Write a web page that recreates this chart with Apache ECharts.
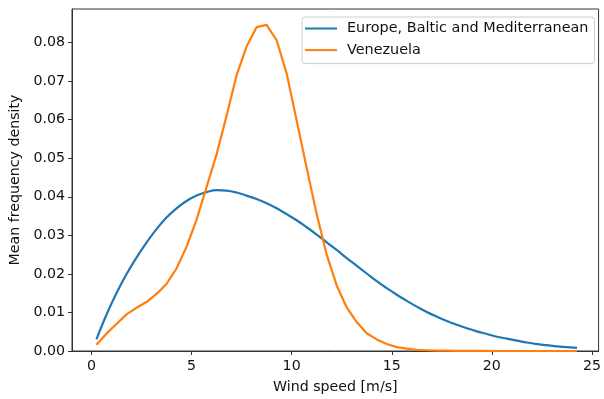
<!DOCTYPE html>
<html>
<head>
<meta charset="utf-8">
<script src="https://cdn.jsdelivr.net/npm/echarts@6/dist/echarts.min.js"></script>
<style>
html,body{margin:0;padding:0;background:#fff;}
#chart{width:604px;height:399px;}
</style>
</head>
<body>
<div id="chart"></div>
<script>
// Wind speed bin centres [m/s]
var windSpeed = [0.25,0.75,1.25,1.75,2.25,2.75,3.25,3.75,4.25,4.75,5.25,5.75,6.25,6.75,7.25,7.75,8.25,8.75,9.25,9.75,
  10.25,10.75,11.25,11.75,12.25,12.75,13.25,13.75,14.25,14.75,15.25,15.75,16.25,16.75,17.25,17.75,18.25,18.75,19.25,19.75,
  20.25,20.75,21.25,21.75,22.25,22.75,23.25,23.75,24.25];
var europe = [0.0030,0.0094,0.0150,0.0199,0.0242,0.0281,0.0316,0.0346,0.0370,0.0389,0.0403,0.0412,0.0417,0.0416,0.0411,0.0403,0.0394,0.0383,0.0370,0.0355,
  0.0339,0.0321,0.0302,0.0282,0.0262,0.0241,0.0221,0.0201,0.0181,0.0163,0.0146,0.0130,0.0115,0.0101,0.0089,0.0078,0.0068,0.0059,0.0051,0.0044,
  0.0037,0.0032,0.0027,0.0022,0.0018,0.0015,0.0012,0.0010,0.0008];
var venezuela = [0.0016,0.0045,0.0070,0.0095,0.0112,0.0127,0.0148,0.0174,0.0214,0.0270,0.0340,0.0425,0.0510,0.0610,0.0715,0.0790,0.0840,0.0846,0.0806,0.0720,
  0.0598,0.0475,0.0355,0.0250,0.0170,0.0113,0.0075,0.0046,0.0030,0.0018,0.0010,0.0006,0.0003,0.0002,0.0001,0.0001,0.00005,0.00003,0.00002,0.00001,
  0,0,0,0,0,0,0,0,0];
var seriesNames = ['Europe, Baltic and Mediterranean','Venezuela'];
var xTicks = [0,5,10,15,20,25];
var yTicks = [0,0.01,0.02,0.03,0.04,0.05,0.06,0.07,0.08];

function pairs(xs, ys){ return xs.map(function(x,i){ return [x, ys[i]]; }); }

var FONT = 'DejaVu Sans';
var FS = 14.2;
var chart = echarts.init(document.getElementById('chart'), null, {renderer:'canvas'});
chart.setOption({
  animation:false,
  backgroundColor:'#fff',
  textStyle:{fontFamily:FONT},
  grid:{left:72, right:2, top:9, bottom:47, show:true, borderColor:'#333', borderWidth:1, backgroundColor:'transparent'},
  legend:{
    orient:'vertical', left:302, top:17,
    padding:[3,6,5,3],
    itemGap:4.6, itemWidth:32, itemHeight:2, icon:'rect',
    borderColor:'#cccccc', borderWidth:1, borderRadius:3, backgroundColor:'rgba(255,255,255,0.8)',
    textStyle:{fontFamily:FONT, fontSize:14.4, color:'#111', lineHeight:17, padding:[0,0,0,5]},
    data:seriesNames
  },
  xAxis:{
    type:'value', min:-0.97, max:25.33,
    name:'Wind speed [m/s]', nameLocation:'middle', nameGap:29,
    nameTextStyle:{fontFamily:FONT, fontSize:FS, color:'#111'},
    axisLine:{show:true, onZero:false, lineStyle:{color:'#333', width:1}},
    axisTick:{show:true, length:4, customValues:xTicks, lineStyle:{color:'#333'}},
    axisLabel:{customValues:xTicks, margin:8, fontFamily:FONT, fontSize:FS, color:'#111'},
    splitLine:{show:false}
  },
  yAxis:{
    type:'value', min:0, max:0.0887,
    name:'Mean frequency density', nameLocation:'middle', nameGap:50,
    nameTextStyle:{fontFamily:FONT, fontSize:FS, color:'#111'},
    axisLine:{show:true, onZero:false, lineStyle:{color:'#333', width:1}},
    axisTick:{show:true, length:4, customValues:yTicks, lineStyle:{color:'#333'}},
    axisLabel:{customValues:yTicks, margin:7, fontFamily:FONT, fontSize:FS, color:'#111',
      formatter:function(v){ return v.toFixed(2); }},
    splitLine:{show:false}
  },
  series:[
    {name:seriesNames[0], type:'line', data:pairs(windSpeed, europe), showSymbol:false, symbol:'none',
      smooth:0.4,
      lineStyle:{color:'#1f77b4', width:2.2}, itemStyle:{color:'#1f77b4'}, z:2},
    {name:seriesNames[1], type:'line', data:pairs(windSpeed, venezuela), showSymbol:false, symbol:'none',
      lineStyle:{color:'#ff7f0e', width:2.2}, itemStyle:{color:'#ff7f0e'}, z:3}
  ]
});
</script>
</body>
</html>
